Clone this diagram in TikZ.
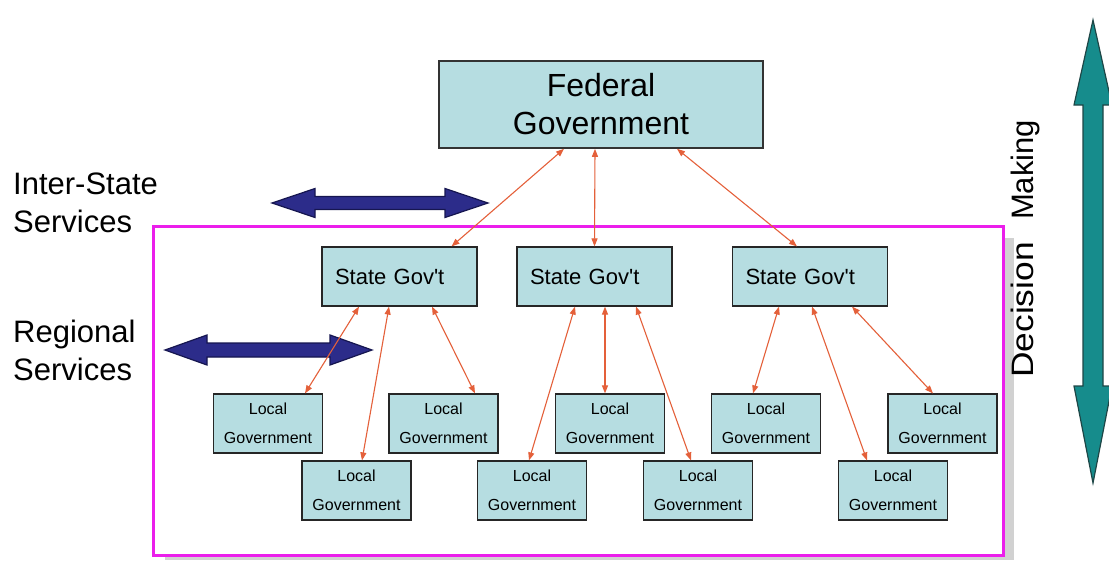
\documentclass[tikz,border=0pt]{standalone}
\usepackage{fontspec}
\setmainfont{Liberation Sans}
\usetikzlibrary{arrows.meta,calc}
\definecolor{boxfill}{RGB}{182,221,225}
\definecolor{linkred}{RGB}{228,96,58}
\definecolor{navyfill}{RGB}{44,44,138}
\definecolor{navyline}{RGB}{22,22,80}
\definecolor{tealfill}{RGB}{22,140,140}
\definecolor{tealline}{RGB}{30,70,70}
\definecolor{frame}{RGB}{235,30,235}
\begin{document}
\begin{tikzpicture}[x=1pt,y=-1pt,
  fedbox/.style={draw=black!80, line width=1.6pt, fill=boxfill, minimum width=324pt, minimum height=87pt, inner sep=0pt, align=center, font=\fontsize{32}{38}\selectfont},
  statebox/.style={draw=black!85, line width=1.2pt, fill=boxfill, text width=129pt, inner xsep=13pt, inner ysep=0pt, minimum height=59pt, align=left, font=\fontsize{22}{26}\selectfont},
  localbox/.style={draw=black!85, line width=1.2pt, fill=boxfill, minimum width=109pt, minimum height=59pt, inner sep=0pt, align=center, font=\fontsize{16}{29}\selectfont},
  link/.style={linkred, line width=1.1pt, {Triangle[length=8pt,width=6pt]}-{Triangle[length=8pt,width=6pt]}},
  sidelabel/.style={align=left, inner sep=0pt, font=\fontsize{31}{38}\selectfont},
  vlabel/.style={rotate=90, inner sep=0pt, anchor=base, font=\fontsize{31}{36}\selectfont},
  fatarrow/.style={line width=1.2pt, line join=miter}
]
\useasboundingbox (0,0) rectangle (1109,563);

% frame with shadow
\fill[black!18] (165,238) rectangle (1014,560);
\draw[frame, line width=3pt, fill=white] (153,226) rectangle (1003,555);

% blue double arrows
\draw[fatarrow, draw=navyline, fill=navyfill]
  (272,203) -- (315,188.5) -- (315,196.5) -- (445,196.5) -- (445,188.5) -- (488,203)
  -- (445,217.5) -- (445,209.5) -- (315,209.5) -- (315,217.5) -- cycle;
\draw[fatarrow, draw=navyline, fill=navyfill]
  (165,350) -- (207,335) -- (207,343) -- (330,343) -- (330,335) -- (372,350)
  -- (330,365) -- (330,357) -- (207,357) -- (207,365) -- cycle;

% teal vertical double arrow
\draw[fatarrow, draw=tealline, fill=tealfill]
  (1093,20) -- (1112,105) -- (1103,105) -- (1103,386) -- (1112,386) -- (1093,483)
  -- (1074,386) -- (1083,386) -- (1083,105) -- (1074,105) -- cycle;

% side labels
\node[sidelabel, anchor=north west] (inter) at (13,173) {Inter-State\\Services};
\node[sidelabel, anchor=north west] (regional) at (13,320) {Regional\\Services};
\node[vlabel] (making) at (1033,170) {Making};
\node[vlabel] (decision) at (1033,310) {\scalebox{1.14}[1]{Decision}};

% nodes
\node[fedbox] (F) at (601,104.5) {Federal\\Government};
\node[statebox] (S1) at (399.5,276.5) {State Gov\textquotesingle t};
\node[statebox] (S2) at (594.5,276.5) {State Gov\textquotesingle t};
\node[statebox] (S3) at (810,276.5) {State Gov\textquotesingle t};

\node[localbox] (L1) at (268,423.5) {Local\\Government};
\node[localbox] (L2) at (356.5,490.5) {Local\\Government};
\node[localbox] (L3) at (443.5,423.5) {Local\\Government};
\node[localbox] (L4) at (532,490.5) {Local\\Government};
\node[localbox] (L5) at (610,423.5) {Local\\Government};
\node[localbox] (L6) at (698,490.5) {Local\\Government};
\node[localbox] (L7) at (766,423.5) {Local\\Government};
\node[localbox] (L8) at (893,490.5) {Local\\Government};
\node[localbox] (L9) at (942.5,423.5) {Local\\Government};

% links federal - state
\draw[link] ([xshift=-37pt]F.south) -- ([xshift=52pt]S1.north);
\draw[link] ([xshift=-6pt]F.south) -- (S2.north);
\draw[link] ([xshift=76pt]F.south) -- ([xshift=-13pt]S3.north);

% links state - local
\draw[link] ([xshift=-40.5pt]S1.south) -- ([xshift=37pt]L1.north);
\draw[link] ([xshift=-10.5pt]S1.south) -- ([xshift=5.5pt]L2.north);
\draw[link] ([xshift=32.5pt]S1.south) -- ([xshift=31.5pt]L3.north);

\draw[link] ([xshift=-19.5pt]S2.south) -- ([xshift=-3pt]L4.north);
\draw[link] ([xshift=10.5pt]S2.south) -- ([xshift=-5pt]L5.north);
\draw[link] ([xshift=41.5pt]S2.south) -- ([xshift=-7pt]L6.north);

\draw[link] ([xshift=-31pt]S3.south) -- ([xshift=-13pt]L7.north);
\draw[link] ([xshift=2pt]S3.south) -- ([xshift=-26pt]L8.north);
\draw[link] ([xshift=42pt]S3.south) -- ([xshift=-9.5pt]L9.north);
\end{tikzpicture}
\end{document}
